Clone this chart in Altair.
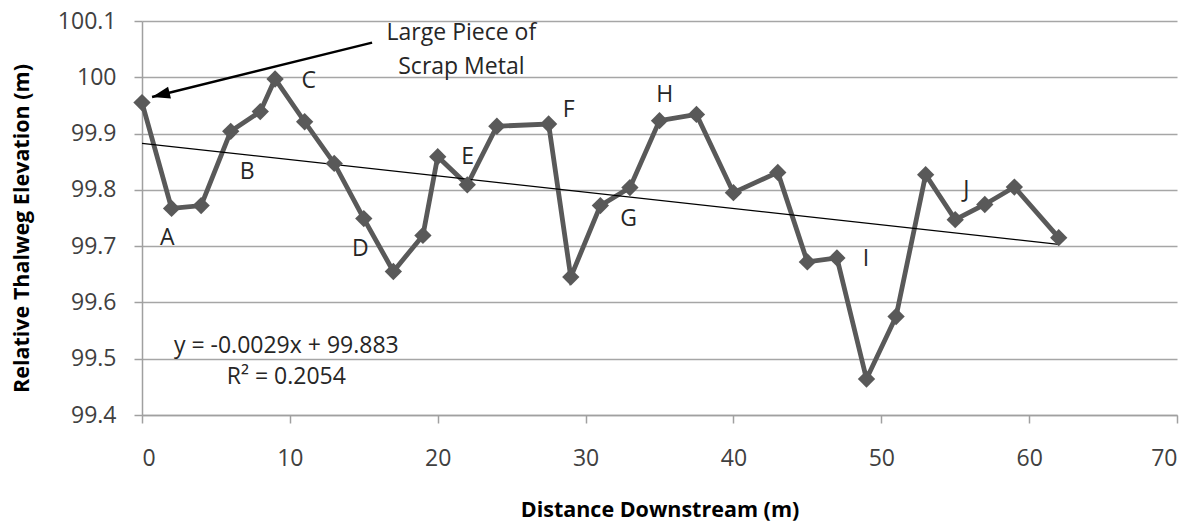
import altair as alt
import pandas as pd

# ---- data ----
distance = [0, 2, 4, 6, 8, 9, 11, 13, 15, 17, 19, 20, 22, 24, 27.5, 29, 31, 33,
            35, 37.5, 40, 43, 45, 47, 49, 51, 53, 55, 57, 59, 62]
elevation = [99.955, 99.767, 99.772, 99.904, 99.939, 99.997, 99.921, 99.847,
             99.749, 99.655, 99.719, 99.859, 99.809, 99.913, 99.917, 99.645,
             99.772, 99.804, 99.923, 99.934, 99.795, 99.831, 99.672, 99.679,
             99.464, 99.575, 99.827, 99.747, 99.774, 99.805, 99.715]

letters = ["A", "B", "C", "D", "E", "F", "G", "H", "I", "J"]
letter_x = [1.71, 7.12, 11.27, 14.77, 22.02, 28.86, 32.91, 35.35, 48.97, 55.75]
letter_y = [99.715, 99.831, 99.993, 99.695, 99.858, 99.941, 99.749, 99.968, 99.678, 99.799]

note_lines = ["Large Piece of", "Scrap Metal"]
note_x = [21.6, 21.6]
note_y = [100.078, 100.019]

eq_lines = ["y = -0.0029x + 99.883", "R\u00b2 = 0.2054"]
eq_x = [9.76, 9.76]
eq_y = [99.5233, 99.4681]

arrow_start = [15.56, 100.0616]
arrow_tip = [0.68, 99.965]

x_ticks = [0, 10, 20, 30, 40, 50, 60, 70]
y_ticks = [99.4, 99.5, 99.6, 99.7, 99.8, 99.9, 100.0, 100.1]

# ---- tables ----
main_df = pd.DataFrame({"x": distance, "y": elevation})
letter_df = pd.DataFrame({"x": letter_x, "y": letter_y, "t": letters})
note_df = pd.DataFrame({"x": note_x, "y": note_y, "t": note_lines})
eq_df = pd.DataFrame({"x": eq_x, "y": eq_y, "t": eq_lines})
arrow_df = pd.DataFrame({"x": [arrow_start[0]], "y": [arrow_start[1]],
                         "x2": [arrow_tip[0]], "y2": [arrow_tip[1]]})
tip_df = pd.DataFrame({"x": [arrow_tip[0]], "y": [arrow_tip[1]]})

FONT = "Open Sans"
LINE_COLOR = "#595959"

X = alt.X("x:Q",
          scale=alt.Scale(domain=[0, 70], nice=False, zero=False),
          axis=alt.Axis(values=x_ticks, title="Distance Downstream (m)", grid=False,
                        tickSize=8, labelPadding=24, titlePadding=29))
Y = alt.Y("y:Q",
          scale=alt.Scale(domain=[99.4, 100.1], nice=False, zero=False),
          axis=alt.Axis(values=y_ticks, format="~g", title="Relative Thalweg Elevation (m)",
                        grid=True, tickSize=8, labelPadding=18, titlePadding=24,
                        titleY=207))

line = alt.Chart(main_df).mark_line(color=LINE_COLOR, strokeWidth=4.8).encode(x=X, y=Y)
pts = alt.Chart(main_df).mark_point(shape="diamond", filled=True, opacity=1,
                                    color=LINE_COLOR, size=300).encode(x=X, y=Y)
trend = alt.Chart(main_df).transform_regression("x", "y").mark_line(
    color="black", strokeWidth=1.2).encode(x=X, y=Y)

letter_txt = alt.Chart(letter_df).mark_text(font=FONT, fontSize=23, color="#262626",
                                            align="center", baseline="middle").encode(
    x=X, y=Y, text="t:N")
note_txt = alt.Chart(note_df).mark_text(font=FONT, fontSize=23, color="#262626",
                                        align="center", baseline="middle").encode(
    x=X, y=Y, text="t:N")
eq_txt = alt.Chart(eq_df).mark_text(font=FONT, fontSize=23, color="#262626",
                                    align="center", baseline="middle").encode(
    x=X, y=Y, text="t:N")

arrow_line = alt.Chart(arrow_df).mark_rule(color="black", strokeWidth=2.5).encode(
    x=X, y=Y, x2="x2:Q", y2="y2:Q")
arrow_head = alt.Chart(tip_df).mark_point(shape="M0,0 L-1,3 L1,3 Z", filled=True,
                                          opacity=1, color="black", size=144,
                                          angle=256).encode(x=X, y=Y)

chart = alt.layer(line, trend, pts, letter_txt, note_txt, eq_txt, arrow_line, arrow_head).properties(
    width=1035, height=394,
    autosize=alt.AutoSizeParams(type="none"),
    padding={"left": 142, "top": 21, "right": 21, "bottom": 110},
).configure_view(stroke=None).configure_axis(
    labelFont=FONT, labelFontSize=23, labelColor="#404040",
    titleFont=FONT, titleFontSize=21.5, titleFontWeight="bold", titleColor="#000000",
    domainColor="#a0a0a0", domainWidth=1.5, tickColor="#a0a0a0", tickWidth=1.5,
    gridColor="#a6a6a6", gridWidth=1.5,
)

chart.save("out.html", embed_options={"renderer": "svg", "actions": False})
